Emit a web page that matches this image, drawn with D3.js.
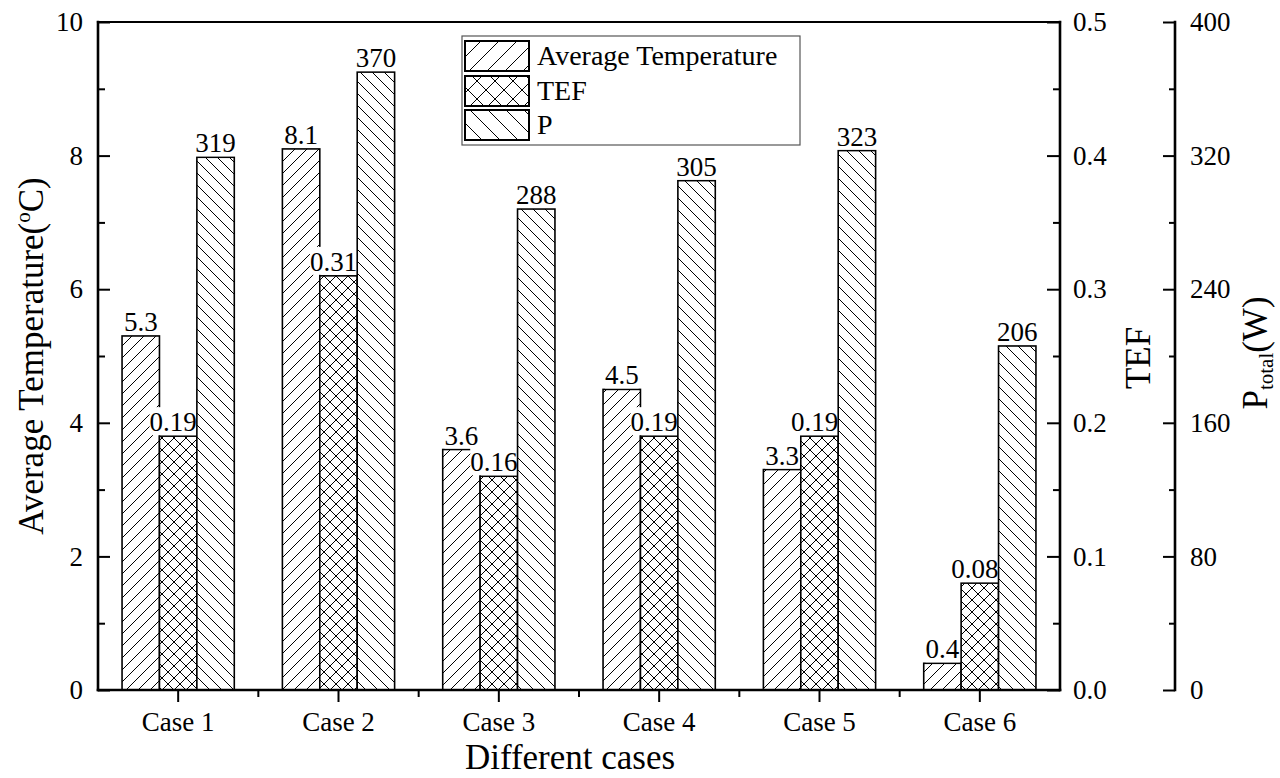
<!DOCTYPE html>
<html>
<head>
<meta charset="utf-8">
<script src="https://cdn.jsdelivr.net/npm/d3@7"></script>
<style>
  html, body { margin: 0; padding: 0; background: #fff; }
  svg { display: block; }
  svg text { font-family: "Liberation Serif", "Times New Roman", serif !important; }
</style>
</head>
<body>
<svg id="chart" width="1280" height="778"></svg>
<script>
// Data
const cases = ["Case 1", "Case 2", "Case 3", "Case 4", "Case 5", "Case 6"];
const avgTemp = [5.3, 8.1, 3.6, 4.5, 3.3, 0.4];
const tef = [0.19, 0.31, 0.16, 0.19, 0.19, 0.08];
const power = [319, 370, 288, 305, 323, 206];
const seriesNames = ["Average Temperature", "TEF", "P"];

const tempTicks = [0, 2, 4, 6, 8, 10];
const tempMinor = [1, 3, 5, 7, 9];
const tefTicks = [0, 0.1, 0.2, 0.3, 0.4, 0.5];
const tefMinor = [0.05, 0.15, 0.25, 0.35, 0.45];
const powerTicks = [0, 80, 160, 240, 320, 400];
const powerMinor = [40, 120, 200, 280, 360];

// Layout
const L = 98, R = 1060, T = 22, B = 690, PAX = 1175;
const serif = '"Liberation Serif", "Times New Roman", serif';
const svg = d3.select("#chart");

const x0 = d3.scaleBand().domain(cases).range([L, R]).paddingInner(0.3).paddingOuter(0.15);
const x1 = d3.scaleBand().domain(seriesNames).range([0, x0.bandwidth()]);
const yTemp = d3.scaleLinear().domain([0, 10]).range([B, T]);
const yTef = d3.scaleLinear().domain([0, 0.5]).range([B, T]);
const yPow = d3.scaleLinear().domain([0, 400]).range([B, T]);

// Hatch patterns
const defs = svg.append("defs");
function hatch(id, w, dirs) {
  const p = defs.append("pattern").attr("id", id)
    .attr("patternUnits", "userSpaceOnUse").attr("width", w).attr("height", w);
  p.append("rect").attr("width", w).attr("height", w).attr("fill", "#fff");
  const d = [];
  if (dirs.includes("/")) d.push(`M${-1},1L1,${-1}M0,${w}L${w},0M${w - 1},${w + 1}L${w + 1},${w - 1}`);
  if (dirs.includes("\\")) d.push(`M${-1},${w - 1}L1,${w + 1}M0,0L${w},${w}M${w - 1},${-1}L${w + 1},1`);
  p.append("path").attr("d", d.join("")).attr("stroke", "#000").attr("stroke-width", 1).attr("fill", "none");
}
hatch("hFwd", 12, "/");
hatch("hCross", 12, "/\\");
hatch("hBack", 12, "\\");
hatch("lgFwd", 18, "/");
hatch("lgCross", 18, "/\\");
hatch("lgBack", 18, "\\");

const series = [
  { name: "Average Temperature", values: avgTemp, y: yTemp, fill: "url(#hFwd)", lfill: "url(#lgFwd)", fmt: d3.format(".1f"), dx: 0 },
  { name: "TEF", values: tef, y: yTef, fill: "url(#hCross)", lfill: "url(#lgCross)", fmt: d3.format(".2f"), dx: -5 },
  { name: "P", values: power, y: yPow, fill: "url(#hBack)", lfill: "url(#lgBack)", fmt: d3.format("d"), dx: 0 }
];

// Bars and value labels, series by series
const plot = svg.append("g");
series.forEach(s => {
  const g = plot.append("g");
  cases.forEach((c, i) => {
    const bx = x0(c) + x1(s.name);
    const by = s.y(s.values[i]);
    g.append("rect")
      .attr("x", bx).attr("y", by)
      .attr("width", x1.bandwidth()).attr("height", B - by)
      .attr("fill", s.fill).attr("stroke", "#000").attr("stroke-width", 1.6);
  });
  cases.forEach((c, i) => {
    const cx = x0(c) + x1(s.name) + x1.bandwidth() / 2 + s.dx;
    const by = s.y(s.values[i]);
    const lg = g.append("g");
    const t = lg.append("text")
      .attr("x", cx).attr("y", by - 5)
      .attr("text-anchor", "middle")
      .style("font-family", serif).style("font-size", "27px").attr("fill", "#000")
      .text(s.fmt(s.values[i]));
    const bb = t.node().getBBox();
    lg.insert("rect", "text")
      .attr("x", bb.x).attr("y", bb.y)
      .attr("width", bb.width).attr("height", (by - 1) - bb.y)
      .attr("fill", "#fff");
  });
});

// Axes
const tickFont = 27;
function styleAxis(g) {
  g.attr("font-family", null).attr("font-size", null);
  g.select(".domain").remove();
  g.selectAll(".tick line").attr("stroke", "#000").attr("stroke-width", 2);
  g.selectAll(".tick text").style("font-size", tickFont + "px").style("font-family", serif).attr("fill", "#000");
}

// Left axis (ticks point inward)
svg.append("g").attr("transform", `translate(${L},0)`)
  .call(d3.axisLeft(yTemp).tickValues(tempTicks).tickFormat(d3.format("d"))
    .tickSizeInner(-12).tickSizeOuter(0).tickPadding(15))
  .call(styleAxis);
svg.append("g").attr("transform", `translate(${L},0)`)
  .call(d3.axisLeft(yTemp).tickValues(tempMinor).tickFormat("")
    .tickSizeInner(-7).tickSizeOuter(0))
  .call(styleAxis);

// TEF axis on the right edge of the frame
svg.append("g").attr("transform", `translate(${R},0)`)
  .call(d3.axisRight(yTef).tickValues(tefTicks).tickFormat(d3.format(".1f"))
    .tickSizeInner(-13).tickSizeOuter(0).tickPadding(13))
  .call(styleAxis);
svg.append("g").attr("transform", `translate(${R},0)`)
  .call(d3.axisRight(yTef).tickValues(tefMinor).tickFormat("")
    .tickSizeInner(-7).tickSizeOuter(0))
  .call(styleAxis);

// Offset power axis
svg.append("g").attr("transform", `translate(${PAX},0)`)
  .call(d3.axisRight(yPow).tickValues(powerTicks).tickFormat(d3.format("d"))
    .tickSizeInner(-12).tickSizeOuter(0).tickPadding(15))
  .call(styleAxis);
svg.append("g").attr("transform", `translate(${PAX},0)`)
  .call(d3.axisRight(yPow).tickValues(powerMinor).tickFormat("")
    .tickSizeInner(-6).tickSizeOuter(0))
  .call(styleAxis);

// Bottom axis: case ticks at band centres, minor ticks between cases
svg.append("g").attr("transform", `translate(0,${B})`)
  .call(d3.axisBottom(x0).tickSizeInner(12).tickSizeOuter(0).tickPadding(10))
  .call(styleAxis);
const step = x0.step();
const minorX = d3.range(1, cases.length).map(i => L + step * i);
svg.append("g").selectAll("line").data(minorX).join("line")
  .attr("x1", d => d).attr("x2", d => d)
  .attr("y1", B).attr("y2", B + 7)
  .attr("stroke", "#000").attr("stroke-width", 2);

// Frame and axis lines
const frame = svg.append("g").attr("stroke", "#000").attr("stroke-linecap", "square");
frame.append("line").attr("x1", L).attr("x2", R).attr("y1", T).attr("y2", T).attr("stroke-width", 2.2);
frame.append("line").attr("x1", L).attr("x2", R).attr("y1", B).attr("y2", B).attr("stroke-width", 2.6);
frame.append("line").attr("x1", L).attr("x2", L).attr("y1", T).attr("y2", B).attr("stroke-width", 2.6);
frame.append("line").attr("x1", R).attr("x2", R).attr("y1", T).attr("y2", B).attr("stroke-width", 2.6);
frame.append("line").attr("x1", PAX).attr("x2", PAX).attr("y1", T).attr("y2", B).attr("stroke-width", 2.6);

// Axis titles
const titleFont = 35;
const yt = svg.append("text")
  .attr("transform", `translate(43,${(T + B) / 2}) rotate(-90)`)
  .attr("text-anchor", "middle").style("font-size", titleFont + "px").style("font-family", serif).attr("fill", "#000");
yt.append("tspan").text("Average Temperature(");
yt.append("tspan").style("font-size", Math.round(titleFont * 0.6) + "px").attr("dy", -13).text("o");
yt.append("tspan").attr("dy", 13).text("C)");

svg.append("text")
  .attr("transform", `translate(1150,${(T + B) / 2 + 2}) rotate(-90)`)
  .attr("text-anchor", "middle").style("font-size", titleFont + "px").style("font-family", serif).attr("fill", "#000")
  .text("TEF");

const pt = svg.append("text")
  .attr("transform", `translate(1267,${(T + B) / 2 - 3}) rotate(-90)`)
  .attr("text-anchor", "middle").style("font-size", titleFont + "px").style("font-family", serif).attr("fill", "#000");
pt.append("tspan").text("P");
pt.append("tspan").style("font-size", Math.round(titleFont * 0.6) + "px").attr("dy", 6).text("total");
pt.append("tspan").attr("dy", -6).text("(W)");

svg.append("text")
  .attr("x", 570).attr("y", 769)
  .attr("text-anchor", "middle").style("font-size", "35px").style("font-family", serif).attr("fill", "#000")
  .text("Different cases");

// Legend
const legend = svg.append("g");
legend.append("rect").attr("x", 462).attr("y", 36).attr("width", 338).attr("height", 109)
  .attr("fill", "#fff").attr("stroke", "#555").attr("stroke-width", 1.2);
const rowY = [41, 76, 110];
series.forEach((s, i) => {
  legend.append("rect").attr("x", 465).attr("y", rowY[i]).attr("width", 64).attr("height", 30)
    .attr("fill", s.lfill).attr("stroke", "#000").attr("stroke-width", 2);
  legend.append("text").attr("x", 537).attr("y", rowY[i] + 24)
    .style("font-size", "28px").style("font-family", serif).attr("fill", "#000").text(s.name);
});
</script>
</body>
</html>
